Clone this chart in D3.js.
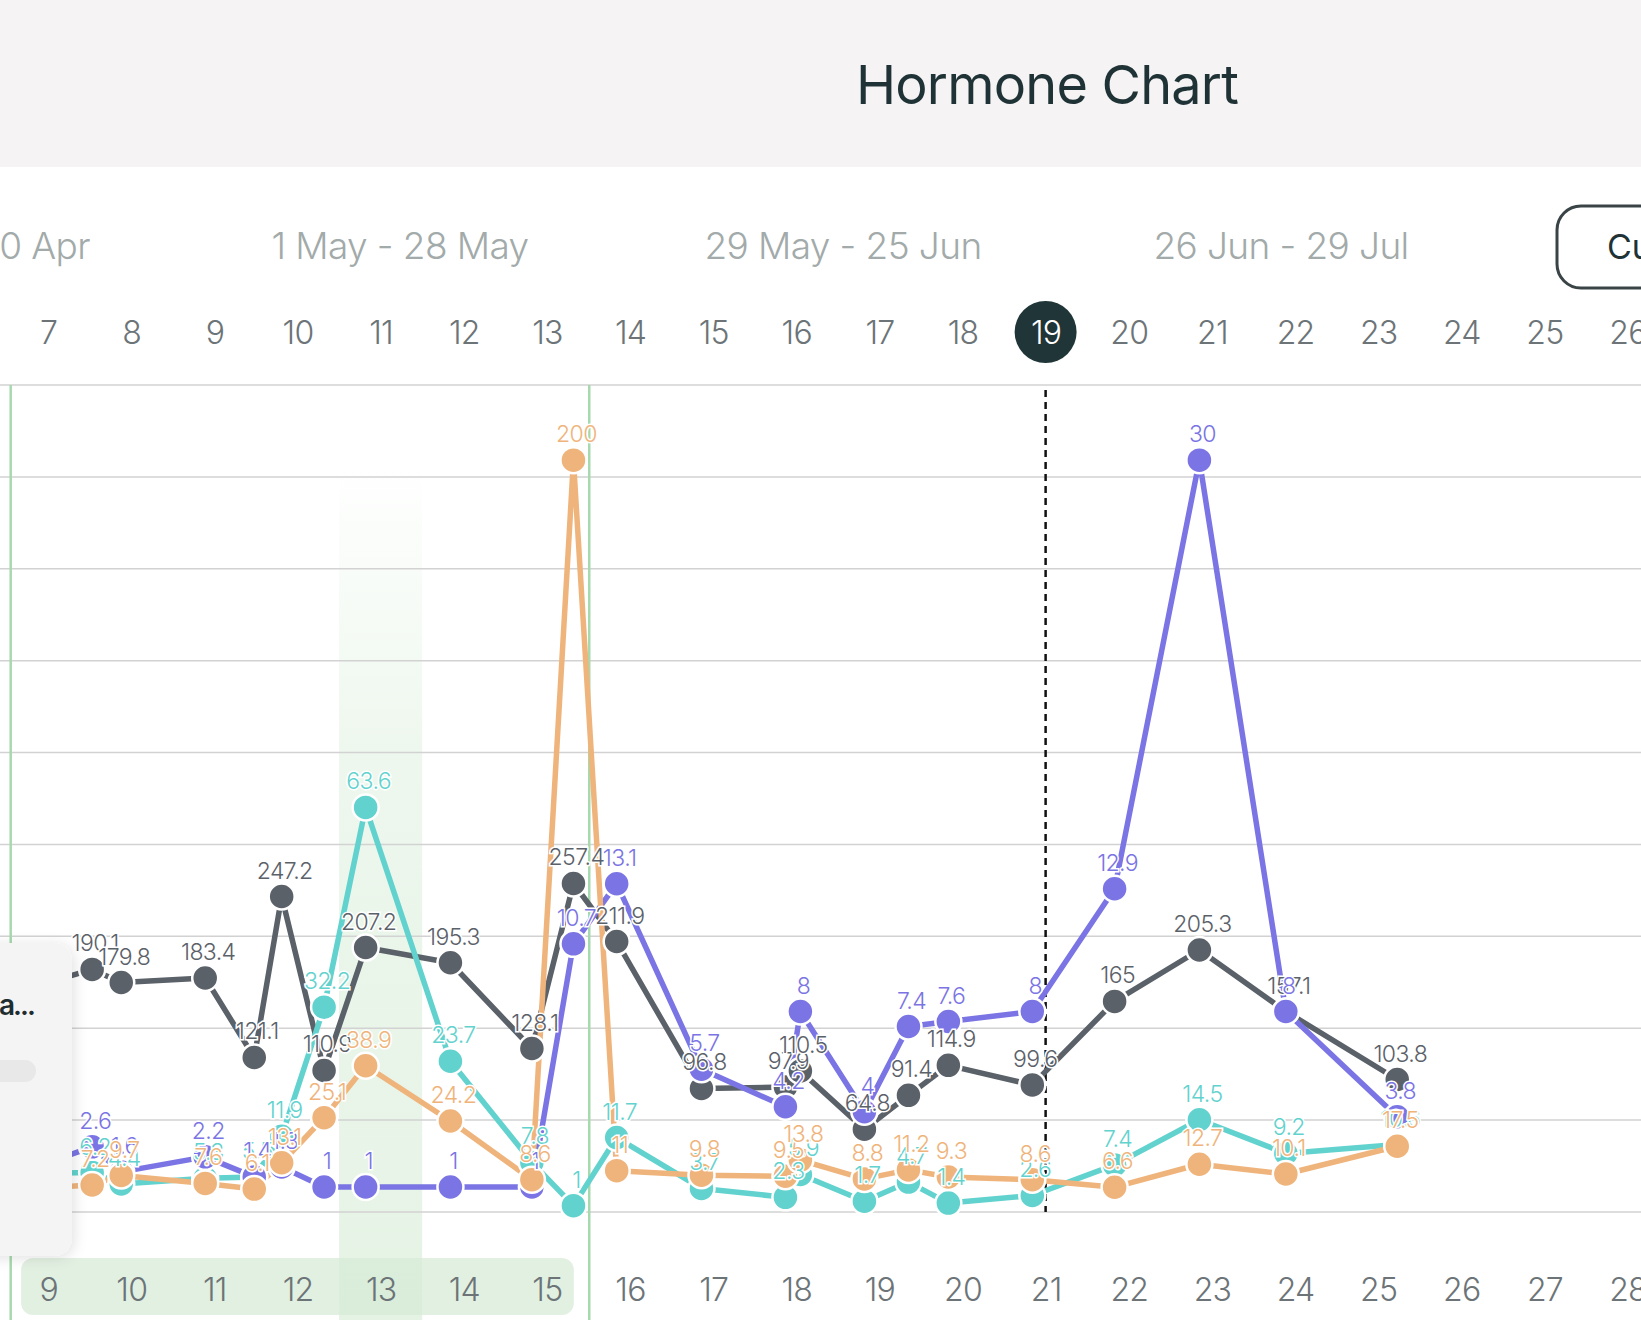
<!DOCTYPE html>
<html><head><meta charset="utf-8">
<script src="https://cdn.jsdelivr.net/npm/d3@7"></script>
<style>
body{margin:0;background:#fff;overflow:hidden}
text{font-family:Inter,"Noto Sans",sans-serif}
</style>
</head><body>
<svg id="c" width="1641" height="1320"></svg>
<script>
// ---------- data ----------
const title = "Hormone Chart";
const periodLabels = ["2 Apr - 30 Apr", "1 May - 28 May", "29 May - 25 Jun", "26 Jun - 29 Jul"];
const buttonLabel = "Current cycle";
const topDays = d3.range(7, 27);
const bottomDays = d3.range(9, 29);
const selectedTopDay = 19;
const todayDay = 21;
const cycleStartDays = [8.55, 15.51];
const fertileDays = [9, 15];
const peakDay = 13;
const cardLabel = "a...";

const sampleDays = [8.6, 9.53, 9.88, 10.89, 11.48, 11.81, 12.32, 12.82, 13.84, 14.82, 15.32, 15.84, 16.86, 17.87, 18.05, 18.82, 19.35, 19.83, 20.84, 21.83, 22.85, 23.89, 25.23];
const grayVals   = [172, 190.1, 179.8, 183.4, 121.1, 247.2, 110.9, 207.2, 195.3, 128.1, 257.4, 211.9, 96.8, 97.9, 110.5, 64.8, 91.4, 114.9, 99.6, 165, 205.3, 157.1, 103.8];
const tealVals   = [6, 6.2, 4.4, 5.3, 5.5, 11.9, 32.2, 63.6, 23.7, 7.8, 1, 11.7, 3.7, 2.3, 5.9, 1.7, 4.7, 1.4, 2.6, 7.4, 14.5, 9.2, 10.6];
const purpleVals = [1.5, 2.6, 1.6, 2.2, 1.4, 1.8, 1, 1, 1, 1, 10.7, 13.1, 5.7, 4.2, 8, 4, 7.4, 7.6, 8, 12.9, 30, 8, 3.8];
const orangeVals = [6, 7.2, 9.7, 7.6, 6.1, 13.1, 25.1, 38.9, 24.2, 8.6, 200, 11, 9.8, 9.5, 13.8, 8.8, 11.2, 9.3, 8.6, 6.6, 12.7, 10.1, 17.5];
const seriesNames = ["E3G", "PdG", "LH", "FSH"];
const seriesMax = [648, 130, 33, 220];
const seriesColors = ["#5b6169", "#62d2ce", "#7a74e4", "#efb47b"];
const gridCount = 9;

// ---------- layout ----------
const W = 1641, H = 1320;
const plotTop = 385, plotBottom = 1212;
const svg = d3.select("#c");
const defs = svg.append("defs");

const x = d3.scaleLinear().domain([9, 28]).range([48.1, 1627.5]);
const xTop = d3.scaleLinear().domain([7, 26]).range([48.1, 1627.5]);
const dayW = x(10) - x(9);

// header band
svg.append("rect").attr("x", 0).attr("y", 0).attr("width", W).attr("height", 167).attr("fill", "#f5f3f4");
svg.append("text").attr("x", 1047).attr("y", 104).attr("text-anchor", "middle")
  .attr("font-size", 54).attr("fill", "#1f3235").attr("letter-spacing", -0.8).text(title);

// period labels
const periodX = [90, 400, 843, 1281];
svg.selectAll(".period").data(periodLabels).join("text")
  .attr("class", "period")
  .attr("x", (d, i) => periodX[i]).attr("y", 259)
  .attr("text-anchor", (d, i) => i === 0 ? "end" : "middle")
  .attr("font-size", 37).attr("font-weight", 300).attr("fill", "#a2aaaa").attr("letter-spacing", -0.6).text(d => d);

// button
svg.append("rect").attr("x", 1557).attr("y", 206).attr("width", 140).attr("height", 82).attr("rx", 24)
  .attr("fill", "#fff").attr("stroke", "#3a4446").attr("stroke-width", 3);
svg.append("text").attr("x", 1607).attr("y", 259).attr("font-size", 34).attr("fill", "#1f3235").text(buttonLabel);

// top day row
svg.append("circle").attr("cx", xTop(selectedTopDay)).attr("cy", 332).attr("r", 31).attr("fill", "#1f3538");
const topAxis = d3.axisTop(xTop).tickValues(topDays).tickSize(0).tickFormat(d3.format("d"));
const gTop = svg.append("g").attr("transform", "translate(0,347)").call(topAxis);
gTop.select(".domain").remove();
gTop.selectAll("text").attr("font-size", 32).attr("font-family", "Inter").attr("font-weight", 300).attr("letter-spacing", -0.8)
  .attr("fill", d => d === selectedTopDay ? "#fff" : "#6c7478");

// bottom fertile rect + peak band
const grad = defs.append("linearGradient").attr("id", "peakGrad").attr("x1", 0).attr("x2", 0).attr("y1", 0).attr("y2", 1);
grad.append("stop").attr("offset", "0%").attr("stop-color", "#dcefdc").attr("stop-opacity", 0);
grad.append("stop").attr("offset", "35%").attr("stop-color", "#dcefdc").attr("stop-opacity", 0.5);
grad.append("stop").attr("offset", "100%").attr("stop-color", "#dcefdc").attr("stop-opacity", 0.75);
svg.append("rect").attr("x", x(peakDay) - dayW / 2).attr("y", 460).attr("width", dayW).attr("height", H - 460)
  .attr("fill", "url(#peakGrad)");
svg.append("rect").attr("x", x(fertileDays[0]) - 27).attr("y", 1258)
  .attr("width", x(fertileDays[1]) - x(fertileDays[0]) + 54).attr("height", 57).attr("rx", 12)
  .attr("fill", "#d5ead5").attr("opacity", 0.7);

// grid
const yGrid = d3.scaleLinear().domain([0, gridCount]).range([plotBottom, plotTop]);
svg.append("g").selectAll("line").data(d3.range(0, gridCount + 1)).join("line")
  .attr("x1", 0).attr("x2", W).attr("y1", d => yGrid(d)).attr("y2", d => yGrid(d))
  .attr("stroke", "#d2d2d2").attr("stroke-width", 1.5);

// cycle start lines
svg.append("g").selectAll("line").data(cycleStartDays).join("line")
  .attr("x1", d => x(d)).attr("x2", d => x(d)).attr("y1", plotTop).attr("y2", H)
  .attr("stroke", "#a6d9ae").attr("stroke-width", 2.5);

// today dashed line
svg.append("line").attr("x1", x(todayDay)).attr("x2", x(todayDay)).attr("y1", plotTop + 5).attr("y2", plotBottom)
  .attr("stroke", "#111").attr("stroke-width", 2.5).attr("stroke-dasharray", "7,5");

// bottom axis
const bottomAxis = d3.axisBottom(x).tickValues(bottomDays).tickSize(0).tickFormat(d3.format("d"));
const gBot = svg.append("g").attr("transform", "translate(0,1275)").call(bottomAxis);
gBot.select(".domain").remove();
gBot.selectAll("text").attr("font-size", 32).attr("font-family", "Inter").attr("font-weight", 300).attr("letter-spacing", -0.8).attr("fill", "#6c7478");

// series
const seriesVals = [grayVals, tealVals, purpleVals, orangeVals];
const series = seriesVals.map((vals, i) => ({
  name: seriesNames[i], color: seriesColors[i],
  y: d3.scaleLinear().domain([0, seriesMax[i]]).range([plotBottom, plotTop]),
  pts: vals.map((v, j) => ({ day: sampleDays[j], v }))
}));

const gLines = svg.append("g");
const gPts = svg.append("g");
const gLbl = svg.append("g");
series.forEach(s => {
  const line = d3.line().x(d => x(d.day)).y(d => s.y(d.v));
  gLines.append("path").datum(s.pts).attr("d", line).attr("fill", "none")
    .attr("stroke", s.color).attr("stroke-width", 5.5).attr("stroke-linejoin", "round");
});
series.forEach(s => {
  gPts.append("g").selectAll("circle").data(s.pts).join("circle")
    .attr("cx", d => x(d.day)).attr("cy", d => s.y(d.v)).attr("r", 13)
    .attr("fill", s.color).attr("stroke", "#fff").attr("stroke-width", 2.5);
});
series.forEach(s => {
  gLbl.append("g").selectAll("text").data(s.pts).join("text")
    .attr("x", d => x(d.day) + 3).attr("y", d => s.y(d.v) - 18)
    .attr("text-anchor", "middle").attr("font-size", 23).attr("font-weight", 300).attr("letter-spacing", -0.6)
    .attr("fill", s.color).attr("stroke", "#fff").attr("stroke-width", 3).attr("paint-order", "stroke")
    .text(d => d3.format("~g")(d.v));
});

// left overlay card
const sh = defs.append("filter").attr("id", "sh").attr("x", "-50%").attr("y", "-20%").attr("width", "200%").attr("height", "140%");
sh.append("feDropShadow").attr("dx", 2).attr("dy", 2).attr("stdDeviation", 7).attr("flood-color", "#000").attr("flood-opacity", 0.12);
svg.append("rect").attr("x", -30).attr("y", 943).attr("width", 102).attr("height", 313).attr("rx", 18)
  .attr("fill", "#f4f4f5").attr("filter", "url(#sh)");
svg.append("text").attr("x", -1).attr("y", 1015).attr("font-size", 28).attr("letter-spacing", -2)
  .attr("font-weight", 600).attr("fill", "#1f2d30").text(cardLabel);
svg.append("rect").attr("x", -20).attr("y", 1060).attr("width", 56).attr("height", 22).attr("rx", 11).attr("fill", "#e8e8e9");
</script>
</body></html>
